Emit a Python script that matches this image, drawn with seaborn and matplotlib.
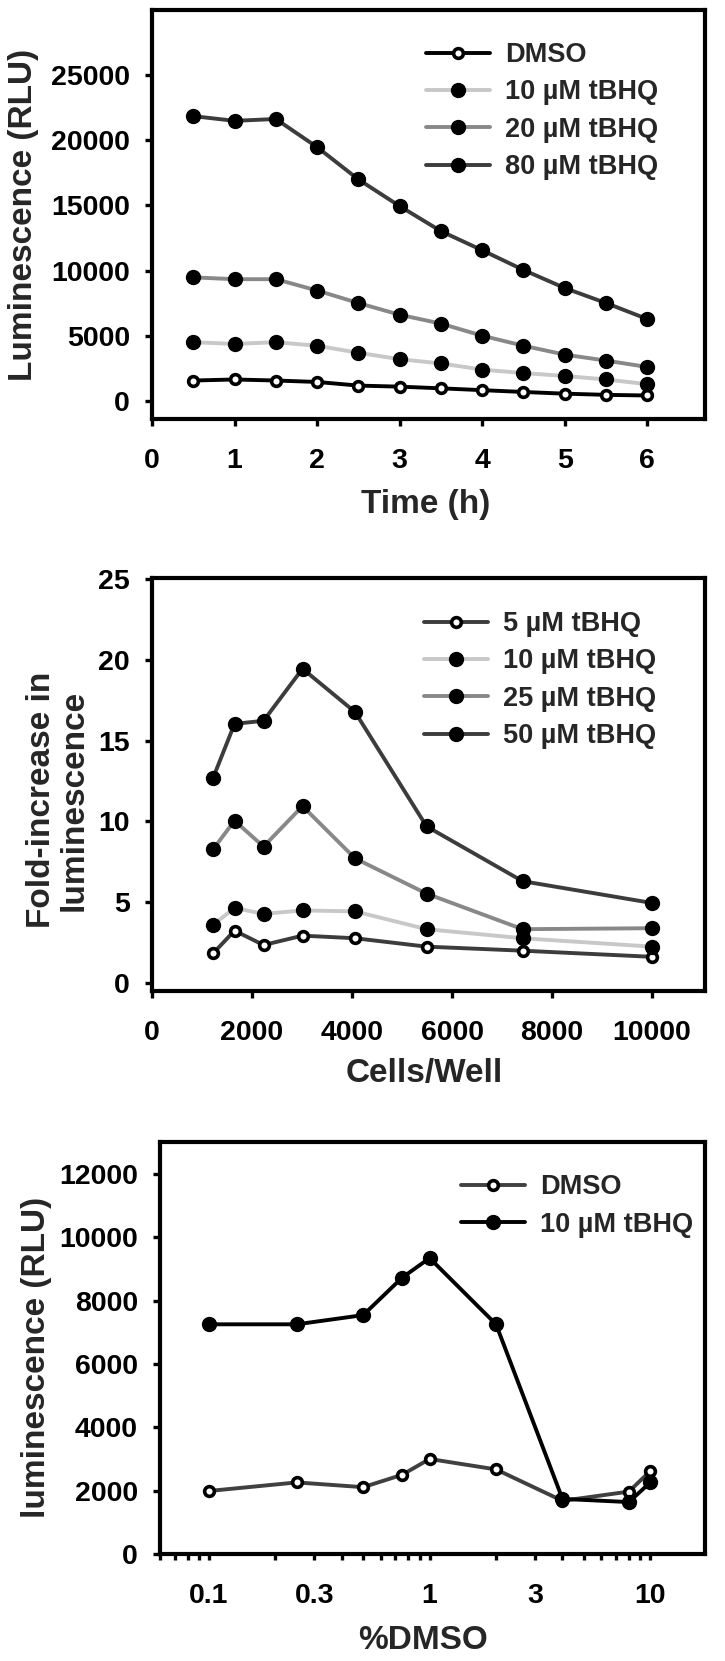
import numpy as np
import pandas as pd
import seaborn as sns
import matplotlib.pyplot as plt
from matplotlib.ticker import LogLocator, FixedLocator, FixedFormatter, NullFormatter

# panel 1: luminescence over time
time_h = [0.5, 1, 1.5, 2, 2.5, 3, 3.5, 4, 4.5, 5, 5.5, 6]
dmso_t = [1560, 1640, 1560, 1450, 1170, 1090, 960, 820, 680, 550, 460, 410]
tbhq10_t = [4500, 4370, 4500, 4230, 3690, 3200, 2870, 2400, 2130, 1910, 1640, 1280]
tbhq20_t = [9480, 9340, 9340, 8470, 7510, 6610, 5930, 5000, 4230, 3550, 3090, 2600]
tbhq80_t = [21860, 21500, 21640, 19480, 17000, 14950, 13030, 11560, 10050, 8660, 7510, 6280]

# panel 2: fold increase vs cell number
cells = [1220, 1650, 2230, 3010, 4060, 5490, 7410, 10000]
tbhq5_c = [1.83, 3.24, 2.35, 2.93, 2.77, 2.25, 2.0, 1.62]
tbhq10_c = [3.6, 4.64, 4.28, 4.49, 4.43, 3.33, 2.77, 2.25]
tbhq25_c = [8.27, 10.04, 8.44, 10.94, 7.71, 5.53, 3.33, 3.39]
tbhq50_c = [12.68, 16.03, 16.22, 19.44, 16.76, 9.69, 6.3, 4.95]

# panel 3: DMSO tolerance
pct_dmso = [0.1, 0.25, 0.5, 0.75, 1, 2, 4, 8, 10]
dmso_d = [1990, 2260, 2110, 2500, 3000, 2670, 1680, 1970, 2620]
tbhq_d = [7250, 7250, 7540, 8720, 9340, 7250, 1740, 1640, 2260]
dmso_ticks = [0.1, 0.3, 1, 3, 10]
dmso_ticklabels = ["0.1", "0.3", "1", "3", "10"]

sns.set_style("ticks")
plt.rcParams['font.family'] = ['Liberation Sans', 'DejaVu Sans']
plt.rcParams['font.weight'] = 'bold'
plt.rcParams['axes.labelweight'] = 'bold'

TICK_FS = 20.5
LABEL_FS = 24
LEG_FS = 19.5
LW = 2.8


def draw_series(ax, x, y, label, color, open_marker=False):
    # one line with circle markers, open (white) or filled (black)
    if open_marker:
        sns.lineplot(x=x, y=y, ax=ax, label=label, color=color, linewidth=LW,
                     marker='o', markersize=7, markerfacecolor='white',
                     markeredgecolor='black', markeredgewidth=2.6,
                     sort=False, estimator=None)
    else:
        sns.lineplot(x=x, y=y, ax=ax, label=label, color=color, linewidth=LW,
                     marker='o', markersize=10, markerfacecolor='black',
                     markeredgecolor='black', markeredgewidth=1,
                     sort=False, estimator=None)


def style_axes(ax, xpad=16, ypad=11):
    for sp in ax.spines.values():
        sp.set_linewidth(3.0)
        sp.set_color('black')
        sp.set_visible(True)
    ax.tick_params(axis='both', which='both', direction='out', width=2.4,
                   labelsize=TICK_FS, colors='black')
    ax.tick_params(axis='y', length=5, pad=ypad)
    ax.tick_params(axis='x', length=5, pad=xpad)
    for lab in ax.get_xticklabels() + ax.get_yticklabels():
        lab.set_fontweight('bold')


def add_legend(ax, x, y):
    leg = ax.legend(loc='upper left', bbox_to_anchor=(x, y), frameon=False,
                    fontsize=LEG_FS, handlelength=2.37, handletextpad=0.55,
                    labelspacing=0.42, borderaxespad=0, borderpad=0, numpoints=1)
    for t in leg.get_texts():
        t.set_fontweight('bold')


fig = plt.figure(figsize=(7.25, 16.61), dpi=100)

# ---- panel 1
ax1 = fig.add_axes([0.2097, 0.7477, 0.7628, 0.2462])
draw_series(ax1, time_h, dmso_t, "DMSO", "black", open_marker=True)
draw_series(ax1, time_h, tbhq10_t, "10 µM tBHQ", "#c8c8c8")
draw_series(ax1, time_h, tbhq20_t, "20 µM tBHQ", "#888888")
draw_series(ax1, time_h, tbhq80_t, "80 µM tBHQ", "#3c3c3c")
ax1.set_xlim(0, 6.7)
ax1.set_ylim(-1400, 30000)
ax1.set_xticks([0, 1, 2, 3, 4, 5, 6])
ax1.set_yticks([0, 5000, 10000, 15000, 20000, 25000])
style_axes(ax1)
ax1.set_xlabel("Time (h)", fontsize=LABEL_FS, fontweight='bold', va='center')
ax1.set_ylabel("Luminescence (RLU)", fontsize=LABEL_FS, fontweight='bold', va='center')
ax1.xaxis.set_label_coords(0.494, -0.210)
ax1.yaxis.set_label_coords(-0.233, 0.499)
add_legend(ax1, 0.495, 0.922)

# ---- panel 2
ax2 = fig.add_axes([0.2097, 0.4036, 0.7628, 0.2484])
draw_series(ax2, cells, tbhq5_c, "5 µM tBHQ", "#3c3c3c", open_marker=True)
draw_series(ax2, cells, tbhq10_c, "10 µM tBHQ", "#c8c8c8")
draw_series(ax2, cells, tbhq25_c, "25 µM tBHQ", "#888888")
draw_series(ax2, cells, tbhq50_c, "50 µM tBHQ", "#3c3c3c")
ax2.set_xlim(0, 11060)
ax2.set_ylim(-0.47, 25.05)
ax2.set_xticks([0, 2000, 4000, 6000, 8000, 10000])
ax2.set_yticks([0, 5, 10, 15, 20, 25])
style_axes(ax2)
ax2.set_xlabel("Cells/Well", fontsize=LABEL_FS, fontweight='bold', va='center')
ax2.set_ylabel("Fold-increase in\nluminescence", fontsize=LABEL_FS, fontweight='bold',
               va='center', linespacing=1.05)
ax2.xaxis.set_label_coords(0.492, -0.200)
ax2.yaxis.set_label_coords(-0.170, 0.462)
add_legend(ax2, 0.492, 0.92)

# ---- panel 3
ax3 = fig.add_axes([0.2207, 0.0644, 0.7517, 0.2480])
draw_series(ax3, pct_dmso, dmso_d, "DMSO", "#404040", open_marker=True)
draw_series(ax3, pct_dmso, tbhq_d, "10 µM tBHQ", "black")
ax3.set_xscale('log')
ax3.set_xlim(0.06, 17.7)
ax3.set_ylim(0, 13000)
ax3.xaxis.set_major_locator(FixedLocator(dmso_ticks))
ax3.xaxis.set_major_formatter(FixedFormatter(dmso_ticklabels))
ax3.xaxis.set_minor_locator(LogLocator(base=10, subs=np.arange(2, 10)))
ax3.xaxis.set_minor_formatter(NullFormatter())
ax3.set_yticks([0, 2000, 4000, 6000, 8000, 10000, 12000])
style_axes(ax3, xpad=17, ypad=11)
ax3.tick_params(axis='x', which='both', length=4)
ax3.set_xlabel("%DMSO", fontsize=LABEL_FS, fontweight='bold', va='center')
ax3.set_ylabel("luminescence (RLU)", fontsize=LABEL_FS, fontweight='bold', va='center')
ax3.xaxis.set_label_coords(0.483, -0.211)
ax3.yaxis.set_label_coords(-0.2275, 0.478)
add_legend(ax3, 0.552, 0.922)

fig.savefig("out.png", dpi=100, facecolor='white')
